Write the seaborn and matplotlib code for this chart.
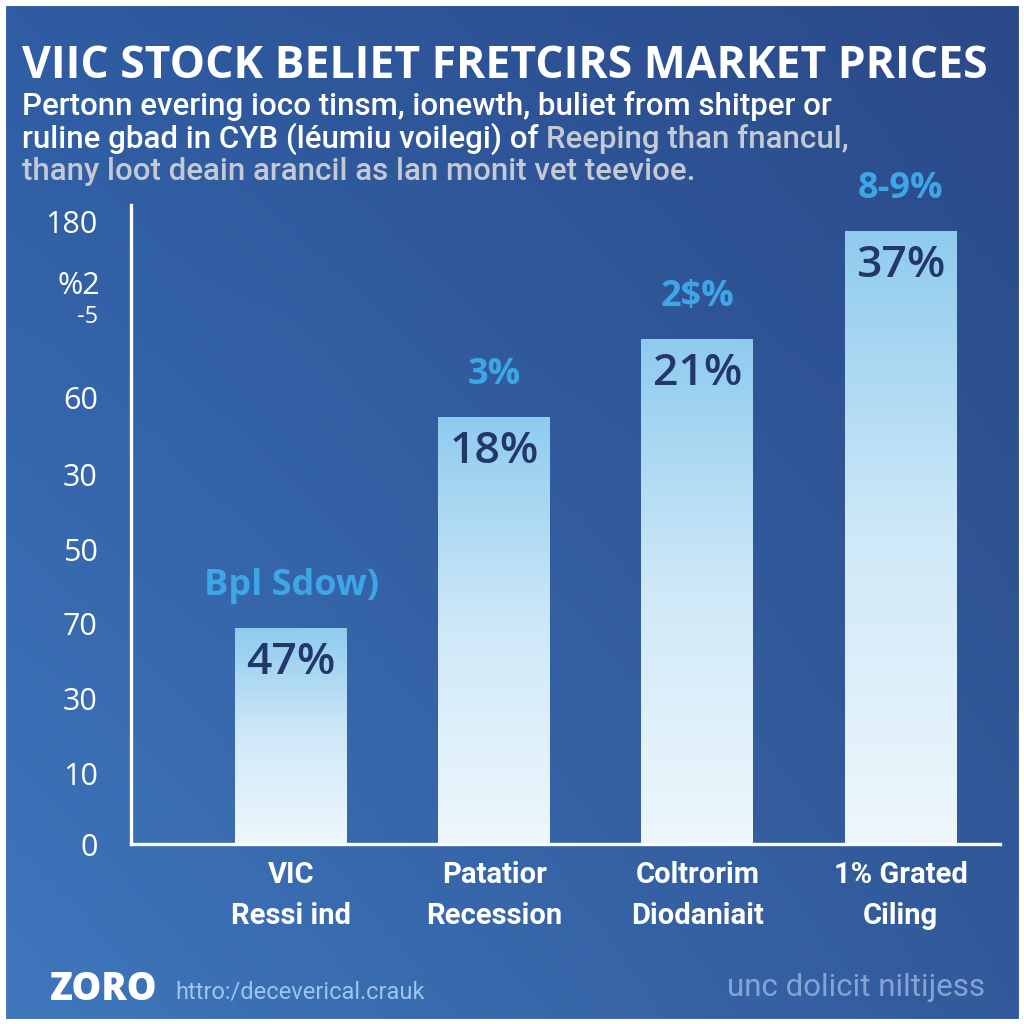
import numpy as np
import pandas as pd
import matplotlib
matplotlib.use("Agg")
import matplotlib.pyplot as plt
import matplotlib.transforms as mtransforms
import seaborn as sns
from matplotlib import font_manager
from matplotlib.colors import LinearSegmentedColormap
from matplotlib.patches import Rectangle

# chart data
categories = ["VIC\nRessi ind", "Patatior\nRecession", "Coltrorim\nDiodaniait", "1% Grated\nCiling"]
bar_values = [62.5, 123.6, 146.1, 177.4]
inner_labels = ["47%", "18%", "21%", "37%"]
top_labels = ["Bpl Sdow)", "3%", "2$%", "8-9%"]
ytick_pos = [0, 20.5, 42.0, 63.9, 85.1, 106.8, 129.3, 153.4, 180]
ytick_labels = ["0", "10", "30", "70", "50", "30", "60", "-5", "180"]
long_ticks = [42.0, 106.8, 180]

title = "VIIC STOCK BELIET FRETCIRS MARKET PRICES"
sub_line1 = "Pertonn evering ioco tinsm, ionewth, buliet from shitper or"
sub_line2a = "ruline gbad in CYB (léumiu voilegi) of "
sub_line2b = "Reeping than fnancul,"
sub_line3 = "thany loot deain arancil as lan monit vet teevioe."

installed = {f.name for f in font_manager.fontManager.ttflist}
narrow = "Liberation Sans Narrow" if "Liberation Sans Narrow" in installed else "Roboto"

sns.set_theme(style="white")
plt.rcParams["font.family"] = ["Open Sans", "DejaVu Sans"]

NAVY = "#22386a"
LIGHT_BLUE = "#3ea6e6"
GREY = "#c4cad4"
SUB_FONT = ["Roboto", "DejaVu Sans"]

fig = plt.figure(figsize=(10.24, 10.24), dpi=100)

# background gradient
bg = fig.add_axes([0, 0, 1, 1], zorder=-5)
bg.set_axis_off()
yy, xx = np.mgrid[0:1:200j, 0:1:200j]
tl = np.array([0x2f, 0x5c, 0xa2]) / 255
tr = np.array([0x2b, 0x49, 0x88]) / 255
bl = np.array([0x3f, 0x77, 0xbd]) / 255
br = np.array([0x32, 0x5a, 0x9b]) / 255
img = ((1 - xx)[..., None] * ((1 - yy)[..., None] * tl + yy[..., None] * bl)
       + xx[..., None] * ((1 - yy)[..., None] * tr + yy[..., None] * br))
bg.imshow(img, extent=[0, 1, 0, 1], origin="upper", aspect="auto")
bg.set_xlim(0, 1)
bg.set_ylim(0, 1)
bg.add_patch(Rectangle((0, 0), 1, 1, fill=False, edgecolor="white", linewidth=8,
                       transform=bg.transAxes))

# main axes
ax = fig.add_axes([131 / 1024, 180 / 1024, 869 / 1024, 639 / 1024])
ax.set_facecolor("none")

df = pd.DataFrame({"category": categories, "value": bar_values})
sns.barplot(data=df, x="category", y="value", width=0.55, ax=ax, color="white")

# vertical gradient fill inside each bar
bar_cmap = LinearSegmentedColormap.from_list("bar", ["#eef7fc", "#cfe9f8", "#8fcbee"])
grad = np.linspace(0, 1, 256)[:, None]
for patch in ax.patches:
    x0, w, h = patch.get_x(), patch.get_width(), patch.get_height()
    patch.set_facecolor("none")
    patch.set_edgecolor("none")
    im = ax.imshow(grad, cmap=bar_cmap, extent=[x0, x0 + w, 0, h],
                   origin="lower", aspect="auto", zorder=2)
    im.set_clip_path(patch)

for i, (v, lab_in, lab_top) in enumerate(zip(bar_values, inner_labels, top_labels)):
    ax.annotate(lab_in, (i, v), xytext=(0, -25), textcoords="offset points",
                ha="center", va="center", fontsize=32, fontweight="semibold",
                color=NAVY, zorder=5)
    ax.annotate(lab_top, (i, v), xytext=(0, 30), textcoords="offset points",
                ha="center", va="center", fontsize=26, fontweight="bold",
                color=LIGHT_BLUE, zorder=5)

ax.set_xlim(-0.788, 3.49)
ax.set_ylim(0, 184.9)

for side in ["top", "right"]:
    ax.spines[side].set_visible(False)
for side in ["left", "bottom"]:
    ax.spines[side].set_color("white")
    ax.spines[side].set_linewidth(2.4)
    ax.spines[side].set_zorder(6)

ax.set_yticks(ytick_pos)
ax.set_yticklabels(ytick_labels)
ax.tick_params(axis="y", direction="in", colors="white", width=2.2,
               length=14, pad=24, labelsize=22)
for t, pos in zip(ax.yaxis.get_major_ticks(), ytick_pos):
    if pos in long_ticks:
        t.tick1line.set_markersize(23)
    if pos == 153.4:
        t.label1.set_fontsize(17)

# the stray "%2" sitting above the "-5" tick
ax.text(-0.036, 161.5, "%2", ha="right", va="center", fontsize=22, color="white",
        transform=mtransforms.blended_transform_factory(ax.transAxes, ax.transData))

ax.tick_params(axis="x", length=0, pad=12)
ax.set_xticks(range(len(categories)))
ax.set_xticklabels(categories, fontsize=21, color="white", fontweight="bold",
                   family=narrow, linespacing=1.6)
ax.set_xlabel("")
ax.set_ylabel("")

# title block
fig.text(22 / 1024, 1 - 66 / 1024, title, fontsize=32, fontweight="bold",
         color="white", va="center", ha="left")
fig.text(22 / 1024, 1 - 106 / 1024, sub_line1, fontsize=22.5, color="white",
         va="center", ha="left", family=SUB_FONT, fontweight="medium")
t2 = fig.text(22 / 1024, 1 - 139 / 1024, sub_line2a, fontsize=22.5, color="white",
              va="center", ha="left", family=SUB_FONT, fontweight="medium")
fig.canvas.draw()
bb = t2.get_window_extent()
fig.text(bb.x1 / 1024, 1 - 139 / 1024, sub_line2b, fontsize=22.5, color=GREY,
         va="center", ha="left", family=SUB_FONT, fontweight="medium")
fig.text(22 / 1024, 1 - 171 / 1024, sub_line3, fontsize=22.5, color=GREY,
         va="center", ha="left", family=SUB_FONT, fontweight="medium")

# footer
fig.text(50 / 1024, 1 - 990 / 1024, "ZORO", fontsize=27, fontweight="heavy",
         color="white", va="center", ha="left")
fig.text(175 / 1024, 1 - 992 / 1024, "httro:/deceverical.crauk", fontsize=17,
         color="#9cc6f0", va="center", ha="left", family=narrow)
fig.text(985 / 1024, 1 - 988 / 1024, "unc dolicit niltijess", fontsize=22.5,
         color="#86a3d6", va="center", ha="right", family=narrow)

fig.savefig("out.png", dpi=100)
